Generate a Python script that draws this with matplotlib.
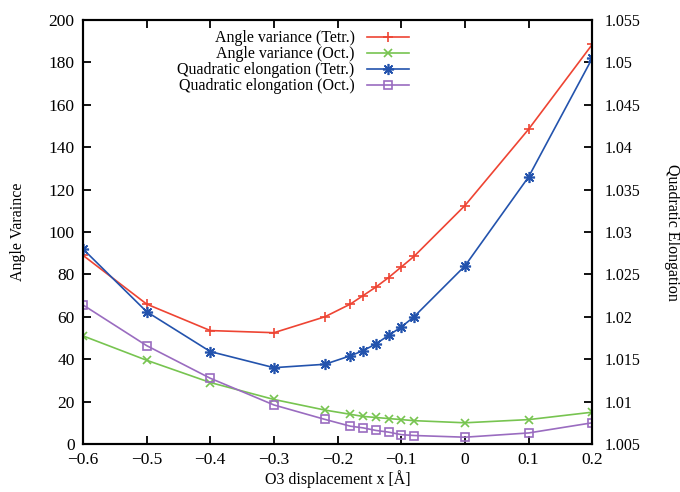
import matplotlib.pyplot as plt
from matplotlib.ticker import FuncFormatter

plt.rcParams['font.family'] = ['Liberation Serif', 'DejaVu Serif']
plt.rcParams['font.size'] = 11.5

# displacement of O3
x = [-0.6, -0.5, -0.4, -0.3, -0.22, -0.18, -0.16, -0.14, -0.12, -0.10, -0.08, 0.0, 0.1, 0.2]

# angle variance (left axis)
av_tetr = [89, 66, 53.5, 52.5, 60, 66, 70, 74, 78.5, 83.5, 88.5, 112.5, 148.5, 188.5]
av_oct = [51, 39.5, 29, 21, 16, 14, 13, 12.5, 12, 11.5, 11, 10, 11.5, 15]

# quadratic elongation (right axis)
qe_tetr = [1.0280, 1.0206, 1.0159, 1.0140, 1.0144, 1.0154, 1.0160, 1.0168, 1.0178,
           1.0188, 1.0200, 1.0260, 1.0365, 1.0505]
qe_oct = [1.0214, 1.0166, 1.01275, 1.0096, 1.0079, 1.0071, 1.0069, 1.0066, 1.0064,
          1.0061, 1.0060, 1.0058, 1.0063, 1.0075]

xticks = [-0.6, -0.5, -0.4, -0.3, -0.2, -0.1, 0.0, 0.1, 0.2]
yticks = [0, 20, 40, 60, 80, 100, 120, 140, 160, 180, 200]
y2ticks = [1.005, 1.01, 1.015, 1.02, 1.025, 1.03, 1.035, 1.04, 1.045, 1.05, 1.055]

red, green, blue, purple = '#ee4433', '#77c450', '#2353ad', '#9a6cc0'


def fmt(v, pos=None):
    return f"{round(v, 4):g}".replace('-', '\u2212')


fig = plt.figure(figsize=(6.8, 4.92), dpi=100)
ax = fig.add_axes([0.122, 0.0976, 0.749, 0.8617])
ax2 = ax.twinx()

l1, = ax.plot(x, av_tetr, color=red, lw=1.2, marker='+', ms=7, mew=1.2,
              label='Angle variance (Tetr.)')
l2, = ax.plot(x, av_oct, color=green, lw=1.2, marker='x', ms=6, mew=1.2,
              label='Angle variance (Oct.)')
l3, = ax2.plot(x, qe_tetr, color=blue, lw=1.2, marker=(8, 2, 0), ms=8, mew=1.2,
               label='Quadratic elongation (Tetr.)')
l4, = ax2.plot(x, qe_oct, color=purple, lw=1.2, marker='s', ms=6, mew=1.2,
               mfc='none', label='Quadratic elongation (Oct.)')

ax.set_xlim(-0.6, 0.2)
ax.set_ylim(0, 200)
ax2.set_ylim(1.005, 1.055)
ax.set_xticks(xticks)
ax.set_yticks(yticks)
ax2.set_yticks(y2ticks)
ax.xaxis.set_major_formatter(FuncFormatter(fmt))
ax.yaxis.set_major_formatter(FuncFormatter(fmt))
ax2.yaxis.set_major_formatter(FuncFormatter(fmt))

ax.tick_params(axis='x', direction='in', top=True, length=6, width=1.3, pad=6,
               labelsize=12.5)
ax.tick_params(axis='y', direction='in', length=6, width=1.3, pad=6, labelsize=12.5)
ax2.tick_params(axis='y', direction='in', length=6, width=1.3, pad=9)
for a in (ax, ax2):
    for s in a.spines.values():
        s.set_linewidth(1.5)

ax.set_xlabel('O3 displacement x [Å]', labelpad=1)
ax.set_ylabel('Angle Varaince', labelpad=16)
ax2.set_ylabel('Quadratic Elongation', rotation=270, labelpad=28)

ax2.legend(handles=[l1, l2, l3, l4], loc='upper left', bbox_to_anchor=(0.165, 1.0),
           frameon=False, markerfirst=False, handlelength=2.6, labelspacing=0.0,
           borderaxespad=0.25, fontsize=11.5)

fig.savefig('out.png', dpi=100)
